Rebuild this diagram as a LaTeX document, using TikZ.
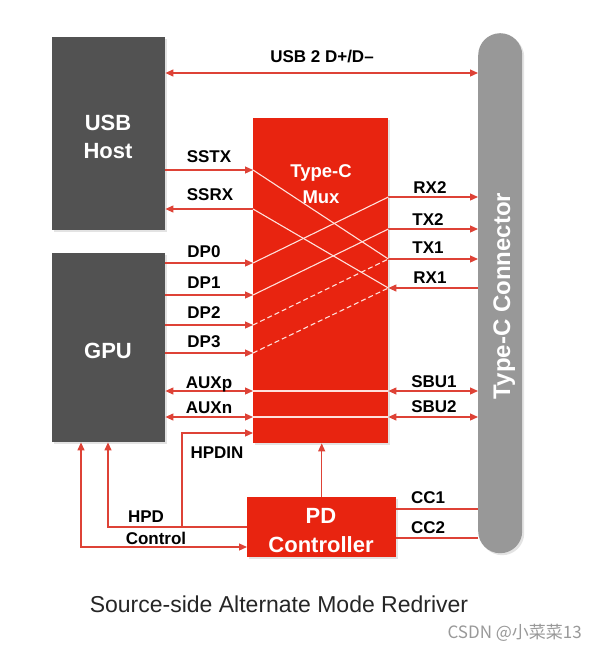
\documentclass[tikz,border=0pt]{standalone}
\usepackage{fontspec}
\setmainfont{Liberation Sans}
\newfontfamily\cjkfont{Noto Sans CJK SC}
\usetikzlibrary{arrows.meta,shadows}
\definecolor{muxred}{RGB}{232,36,16}
\definecolor{wirered}{RGB}{222,66,54}
\definecolor{hostgray}{RGB}{82,82,82}
\definecolor{conngray}{RGB}{152,152,152}
\definecolor{innerwhite}{RGB}{255,225,220}
\begin{document}
\begin{tikzpicture}[x=1pt,y=-1pt,
  blk/.style={inner sep=0pt, anchor=north west,
    drop shadow={opacity=0.22,shadow xshift=2pt,shadow yshift=-2pt}},
  wire/.style={draw=wirered, line width=1.2pt},
  fwd/.style={wire,-{Triangle[length=8pt,width=7pt]}},
  bwd/.style={wire,{Triangle[length=8pt,width=7pt]}-},
  both/.style={wire,{Triangle[length=8pt,width=7pt]}-{Triangle[length=8pt,width=7pt]}},
  inner/.style={draw=innerwhite, line width=1.1pt},
  innerdash/.style={inner, dash pattern=on 5pt off 3pt},
  lab/.style={font=\bfseries\fontsize{17}{17}\selectfont, inner sep=0pt, anchor=base},
  big/.style={font=\bfseries\fontsize{22}{22}\selectfont, text=white, inner sep=0pt, anchor=base},
  muxtxt/.style={font=\bfseries\fontsize{18.5}{18.5}\selectfont, text=white, inner sep=0pt, anchor=base}
]
\useasboundingbox (0,0) rectangle (597,651);
\fill[white] (0,0) rectangle (597,651);

% blocks
\node[blk, fill=hostgray, minimum width=113pt, minimum height=193pt] (usb) at (52,37) {};
\node[blk, fill=hostgray, minimum width=113pt, minimum height=189pt] (gpu) at (52,253) {};
\node[blk, fill=muxred, minimum width=135pt, minimum height=325pt] (mux) at (253,118) {};
\node[blk, fill=conngray, minimum width=44pt, minimum height=520pt, rounded corners=22pt] (conn) at (478,33) {};
\node[blk, fill=muxred, minimum width=149pt, minimum height=60pt] (pd) at (247,497) {};

% block texts
\node[big] (tusb) at (108,130.5) {USB};
\node[big] (thost) at (108,158) {Host};
\node[big] (tgpu) at (108,358.5) {GPU};
\node[muxtxt] (ttype) at (321,177) {Type-C};
\node[muxtxt] (tmux) at (321,203) {Mux};
\node[big] (tpd) at (321,523) {PD};
\node[big] (tctl) at (321,552) {Controller};
\node[font=\bfseries\fontsize{24}{24}\selectfont, text=white, inner sep=0pt, anchor=base, rotate=90] (tconn) at (510,296) {Type-C Connector};

% row coordinates
\coordinate (rUSB) at (0,73);
\coordinate (rSSTX) at (0,170);
\coordinate (rSSRX) at (0,209);
\coordinate (rDP0) at (0,263);
\coordinate (rDP1) at (0,295);
\coordinate (rDP2) at (0,325);
\coordinate (rDP3) at (0,353);
\coordinate (rAUXp) at (0,391);
\coordinate (rAUXn) at (0,417);
\coordinate (rHPDIN) at (0,433);
\coordinate (rRX2) at (0,197);
\coordinate (rTX2) at (0,229);
\coordinate (rTX1) at (0,259);
\coordinate (rRX1) at (0,288);
\coordinate (rCC1) at (0,509);
\coordinate (rCC2) at (0,538);
\coordinate (rHPD) at (0,527);
\coordinate (rCtl) at (0,547);
\coordinate (xCtl) at (81,0);
\coordinate (xHPD) at (108,0);
\coordinate (xHPDIN) at (182,0);

% USB 2
\draw[both] (usb.east |- rUSB) -- (conn.west |- rUSB);

% left side wires
\draw[fwd] (usb.east |- rSSTX) -- (mux.west |- rSSTX);
\draw[bwd] (usb.east |- rSSRX) -- (mux.west |- rSSRX);
\draw[fwd] (gpu.east |- rDP0) -- (mux.west |- rDP0);
\draw[fwd] (gpu.east |- rDP1) -- (mux.west |- rDP1);
\draw[fwd] (gpu.east |- rDP2) -- (mux.west |- rDP2);
\draw[fwd] (gpu.east |- rDP3) -- (mux.west |- rDP3);
\draw[both] (gpu.east |- rAUXp) -- (mux.west |- rAUXp);
\draw[both] (gpu.east |- rAUXn) -- (mux.west |- rAUXn);

% right side wires
\draw[fwd] (mux.east |- rRX2) -- (conn.west |- rRX2);
\draw[fwd] (mux.east |- rTX2) -- (conn.west |- rTX2);
\draw[fwd] (mux.east |- rTX1) -- (conn.west |- rTX1);
\draw[bwd] (mux.east |- rRX1) -- (conn.west |- rRX1);
\draw[both] (mux.east |- rAUXp) -- (conn.west |- rAUXp);
\draw[both] (mux.east |- rAUXn) -- (conn.west |- rAUXn);
\draw[wire] (pd.east |- rCC1) -- (conn.west |- rCC1);
\draw[wire] (pd.east |- rCC2) -- (conn.west |- rCC2);

% inside the mux
\draw[inner] (mux.west |- rSSTX) -- (mux.east |- rTX1);
\draw[inner] (mux.west |- rSSRX) -- (mux.east |- rRX1);
\draw[inner] (mux.west |- rDP0) -- (mux.east |- rRX2);
\draw[inner] (mux.west |- rDP1) -- (mux.east |- rTX2);
\draw[innerdash] (mux.west |- rDP2) -- (mux.east |- rTX1);
\draw[innerdash] (mux.west |- rDP3) -- (mux.east |- rRX1);
\draw[inner] (mux.west |- rAUXp) -- (mux.east |- rAUXp);
\draw[inner] (mux.west |- rAUXn) -- (mux.east |- rAUXn);

% control wires
\draw[fwd] (pd.north) -- (mux.south -| pd.north);
\draw[bwd] (gpu.south -| xHPD) -- (xHPD |- rHPD) -- (pd.west |- rHPD);
\draw[fwd] (xHPDIN |- rHPD) -- (xHPDIN |- rHPDIN) -- (mux.west |- rHPDIN);
\draw[both] (gpu.south -| xCtl) -- (xCtl |- rCtl) -- (pd.west |- rCtl);

% labels
\node[lab] (lusb2) at (322,62) {USB 2 D+/D\textendash};
\node[lab] (lsstx) at (209,162) {SSTX};
\node[lab] (lssrx) at (210,200) {SSRX};
\node[lab] (ldp0) at (204,257) {DP0};
\node[lab] (ldp1) at (204,288) {DP1};
\node[lab] (ldp2) at (204,318) {DP2};
\node[lab] (ldp3) at (204,347) {DP3};
\node[lab] (lauxp) at (209,388) {AUXp};
\node[lab] (lauxn) at (209,413) {AUXn};
\node[lab] (lhpdin) at (217,458) {HPDIN};
\node[lab] (lrx2) at (430,193) {RX2};
\node[lab] (ltx2) at (428,225) {TX2};
\node[lab] (ltx1) at (428,253) {TX1};
\node[lab] (lrx1) at (430,283) {RX1};
\node[lab] (lsbu1) at (434,387) {SBU1};
\node[lab] (lsbu2) at (434,412) {SBU2};
\node[lab] (lcc1) at (428,503) {CC1};
\node[lab] (lcc2) at (428,533) {CC2};
\node[lab] (lhpd) at (146,522) {HPD};
\node[lab] (lctl) at (156,544) {Control};

% caption
\node[font=\fontsize{23}{23}\selectfont, inner sep=0pt, anchor=base, text=black!85] (cap) at (279,612) {Source-side Alternate Mode Redriver};
\node[font=\cjkfont\fontsize{17}{17}\selectfont, inner sep=0pt, anchor=base east, text=black!40] (wm) at (582,638) {CSDN @小菜菜13};
\end{tikzpicture}
\end{document}
